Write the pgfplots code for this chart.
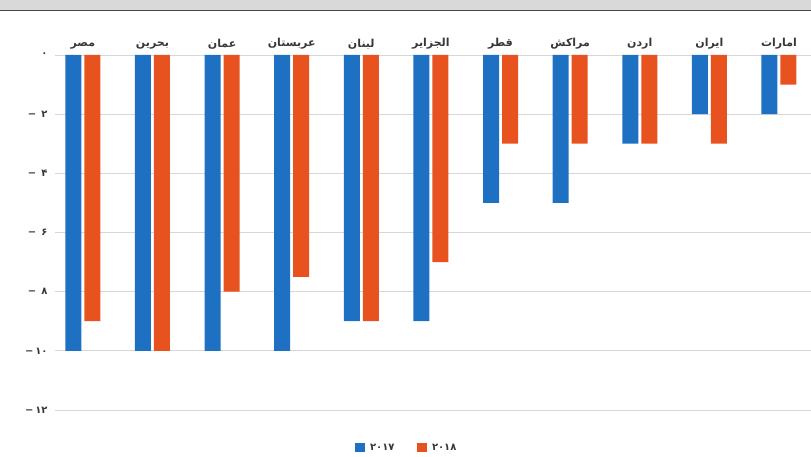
\documentclass[border=0pt]{standalone}
\usepackage{pgfplots}
\pgfplotsset{compat=1.18}
\usepackage{fontspec}
\newfontfamily\arabicfont[Script=Arabic]{DejaVu Sans}
\newfontfamily\dejafont{DejaVu Sans}
\TeXXeTstate=1
\definecolor{blue17}{RGB}{30,112,194}
\definecolor{orange18}{RGB}{232,82,30}
\definecolor{gridc}{RGB}{215,215,215}
\definecolor{labc}{RGB}{55,55,55}
\newcommand{\fa}[1]{{\arabicfont\beginR #1\endR}}
\newcommand{\ntick}[1]{{{\dejafont\bfseries −}\,{\arabicfont\bfseries #1}}}
\begin{document}
\begin{tikzpicture}[x=1pt,y=1pt]
\useasboundingbox (-55,-47) rectangle (756,410);
\fill[gray!30] (-55,400) rectangle (756,410);
\draw[gray!55!black, line width=1.8pt] (-55,399.5) -- (756,399.5);
\begin{axis}[
  at={(0,0)}, anchor=south west,
  width=756pt, height=355pt, scale only axis,
  ybar=3pt, bar width=16pt,
  xmin=-0.40, xmax=10.46, ymin=-12, ymax=0,
  xtick={0,...,10},
  xticklabels={\fa{مصر},\fa{بحرین},\fa{عمان},\fa{عربستان},\fa{لبنان},\fa{الجزایر},\fa{قطر},\fa{مراکش},\fa{اردن},\fa{ایران},\fa{امارات}},
  xticklabel pos=upper,
  xticklabel style={font=\fontsize{11}{13}\selectfont\bfseries, text=labc, yshift=-2pt},
  ytick={-12,-10,-8,-6,-4,-2,0},
  yticklabels={\ntick{۱۲},\ntick{۱۰},\ntick{\ ۸},\ntick{\ ۶},\ntick{\ ۴},\ntick{\ ۲},{\arabicfont\bfseries ۰}},
  yticklabel style={font=\fontsize{10}{12}\selectfont, text=labc, xshift=-4pt},
  axis line style={draw=none},
  xtick style={draw=none}, ytick style={draw=none},
  ymajorgrids, grid style={gridc, line width=0.9pt},
  legend columns=2,
  legend style={at={(axis description cs:0.465,-0.107)}, anchor=center, draw=none, fill=none,
    font=\fontsize{10}{12}\selectfont\bfseries, text=labc, /tikz/every even column/.append style={column sep=20pt}},
  legend image code/.code={\fill[#1] (0pt,-4.5pt) rectangle (10pt,4.5pt);},
]
\addplot[fill=blue17, draw=none] coordinates {(0,-10) (1,-10) (2,-10) (3,-10) (4,-9) (5,-9) (6,-5) (7,-5) (8,-3) (9,-2) (10,-2)};
\addplot[fill=orange18, draw=none] coordinates {(0,-9) (1,-10) (2,-8) (3,-7.5) (4,-9) (5,-7) (6,-3) (7,-3) (8,-3) (9,-3) (10,-1)};
\legend{{\arabicfont\ ۲۰۱۷},{\arabicfont\ ۲۰۱۸}}
\end{axis}
\end{tikzpicture}
\end{document}
